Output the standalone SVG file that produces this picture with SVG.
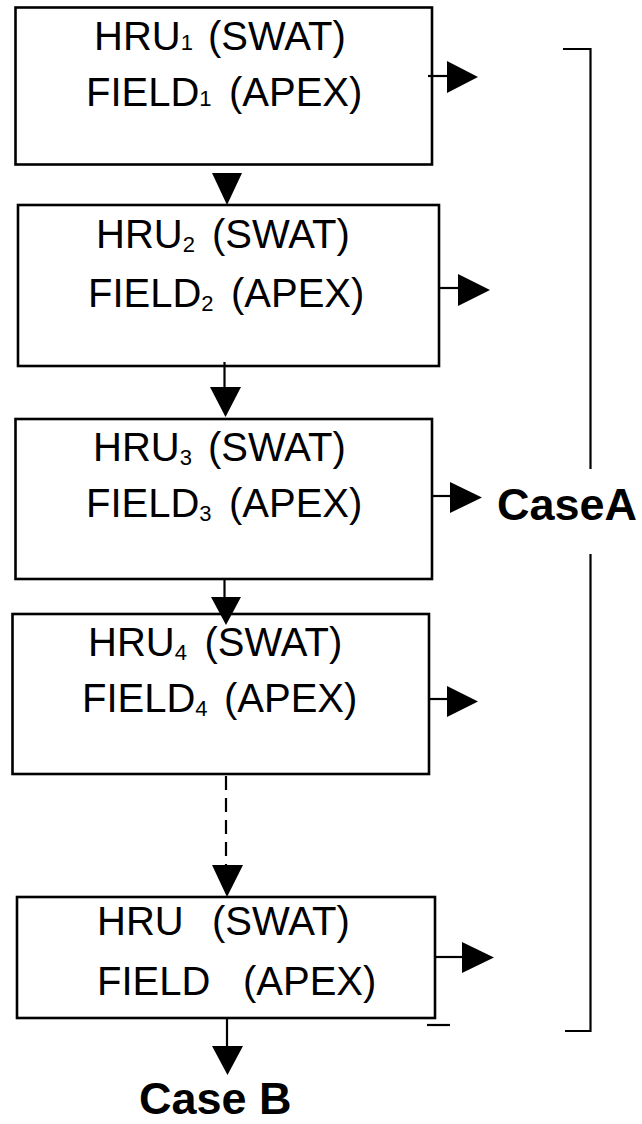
<svg xmlns="http://www.w3.org/2000/svg" width="642" height="1124" viewBox="0 0 642 1124">
  <style>
    .box { fill: #fff; stroke: #000; stroke-width: 2.6; }
    .lbl { font-family: "Liberation Sans", Arial, sans-serif; font-size: 40px; fill: #000; }
    .sub { font-size: 22px; }
    .case { font-family: "Liberation Sans", Arial, sans-serif; font-size: 45px; font-weight: bold; fill: #000; }
    .ln { stroke: #000; stroke-width: 2.2; fill: none; }
    .dash { stroke-dasharray: 14 8; }
    .head { fill: #000; }
  </style>

  <!-- nodes -->
  <g id="hru1">
    <rect class="box" x="15.5" y="7.5" width="416.5" height="157"/>
    <text class="lbl" y="49.5"><tspan x="94">HRU</tspan><tspan class="sub">1</tspan><tspan x="208">(SWAT)</tspan></text>
    <text class="lbl" y="106"><tspan x="86">FIELD</tspan><tspan class="sub">1</tspan><tspan x="229">(APEX)</tspan></text>
  </g>
  <g id="hru2">
    <rect class="box" x="18" y="205" width="421" height="161"/>
    <text class="lbl" y="248"><tspan x="96">HRU</tspan><tspan class="sub" dy="4">2</tspan><tspan x="212" dy="-4">(SWAT)</tspan></text>
    <text class="lbl" y="307"><tspan x="88">FIELD</tspan><tspan class="sub" dy="4">2</tspan><tspan x="231" dy="-4">(APEX)</tspan></text>
  </g>
  <g id="hru3">
    <rect class="box" x="15.5" y="419" width="416.5" height="160"/>
    <text class="lbl" y="461"><tspan x="93">HRU</tspan><tspan class="sub" dy="4">3</tspan><tspan x="208" dy="-4">(SWAT)</tspan></text>
    <text class="lbl" y="517"><tspan x="86">FIELD</tspan><tspan class="sub" dy="4">3</tspan><tspan x="229" dy="-4">(APEX)</tspan></text>
  </g>
  <g id="hru4">
    <rect class="box" x="12.5" y="614" width="416.5" height="160"/>
    <text class="lbl" y="656"><tspan x="88">HRU</tspan><tspan class="sub" dy="4">4</tspan><tspan x="204.5" dy="-4">(SWAT)</tspan></text>
    <text class="lbl" y="712"><tspan x="82">FIELD</tspan><tspan class="sub" dy="4">4</tspan><tspan x="224" dy="-4">(APEX)</tspan></text>
  </g>
  <g id="hru-n">
    <rect class="box" x="17" y="897" width="418" height="121"/>
    <text class="lbl" y="935"><tspan x="97">HRU</tspan><tspan x="212">(SWAT)</tspan></text>
    <text class="lbl" y="995"><tspan x="97">FIELD</tspan><tspan x="243">(APEX)</tspan></text>
  </g>
  <g id="case-a">
    <text class="case" x="497" y="520">CaseA</text>
  </g>
  <g id="case-b">
    <text class="case" x="139" y="1114">Case B</text>
  </g>

  <!-- connectors -->
  <g id="connectors">
    <!-- outputs to the right -->
    <line class="ln" x1="428" y1="76" x2="448" y2="76"/>
    <polygon class="head" points="447,61 478,77 447,93"/>
    <line class="ln" x1="439" y1="288" x2="459" y2="288"/>
    <polygon class="head" points="458,274 490,290 458,306"/>
    <line class="ln" x1="432" y1="496" x2="451" y2="496"/>
    <polygon class="head" points="450,482 482,497.5 450,513"/>
    <line class="ln" x1="429" y1="699" x2="448" y2="699"/>
    <polygon class="head" points="447,686 478,701.5 447,717"/>
    <line class="ln" x1="435" y1="957" x2="463" y2="957"/>
    <polygon class="head" points="462,942 494,957.5 462,973"/>

    <!-- downward chain -->
    <polygon class="head" points="212,173 242,173 227,205"/>
    <line class="ln" x1="224.5" y1="362" x2="224.5" y2="388"/>
    <polygon class="head" points="210,387 241,387 225.5,417"/>
    <line class="ln" x1="224.5" y1="579" x2="224.5" y2="598"/>
    <polygon class="head" points="211,597 241,597 226,625"/>
    <line class="ln dash" x1="226" y1="776" x2="226" y2="866"/>
    <polygon class="head" points="212,865 243,865 227,897"/>
    <line class="ln" x1="227" y1="1018" x2="227" y2="1047"/>
    <polygon class="head" points="212,1046 243,1046 227.5,1075"/>

    <!-- bracket grouping the outputs -->
    <polyline class="ln" points="563,49 590.5,49 590.5,469"/>
    <polyline class="ln" points="590.5,554 590.5,1031 565,1031"/>
    <line class="ln" x1="427" y1="1025" x2="450" y2="1025"/>
  </g>
</svg>
